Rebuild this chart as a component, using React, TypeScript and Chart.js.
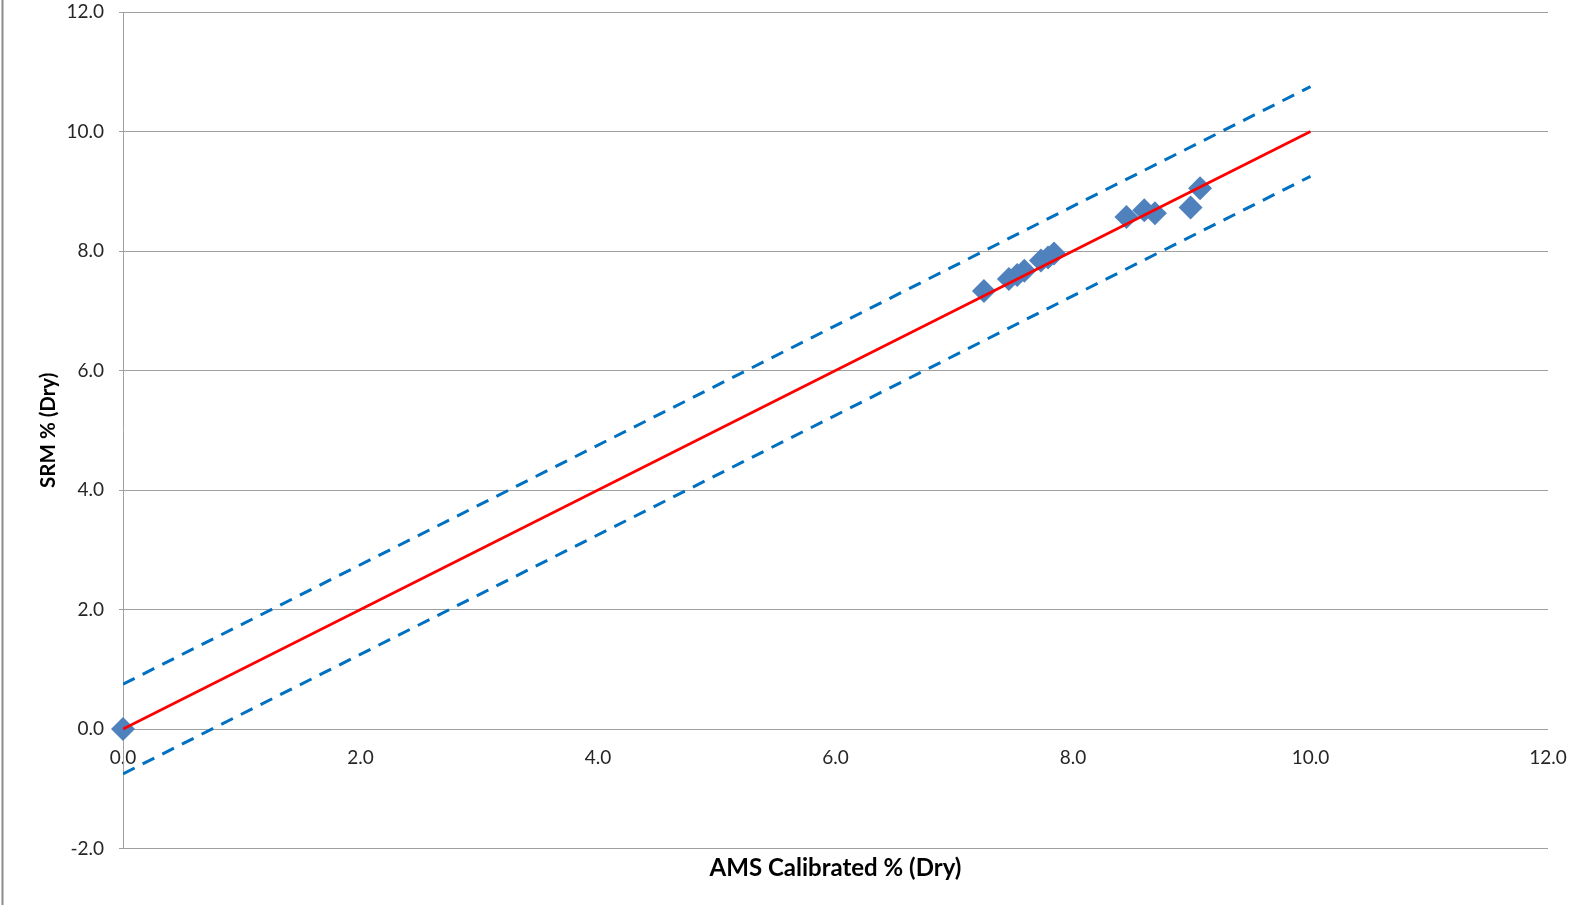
import React, { useEffect, useRef } from "react";
import { Chart, registerables } from "chart.js";

Chart.register(...registerables);

// AMS calibrated values (x) and SRM values (y)
const amsValues = [0, 7.25, 7.46, 7.53, 7.59, 7.73, 7.79, 7.84, 8.45, 8.6, 8.69, 8.99, 9.07];
const srmValues = [0, 7.33, 7.53, 7.6, 7.67, 7.84, 7.89, 7.96, 8.57, 8.68, 8.63, 8.73, 9.05];

// 1:1 line and +/- band
const lineX = [0, 10];
const fitY = [0, 10];
const upperY = [0.75, 10.75];
const lowerY = [-0.75, 9.25];

const xRange = [0, 12];
const yRange = [-2, 12];
const tickStep = 2;

const xTitle = "AMS Calibrated % (Dry)";
const yTitle = "SRM % (Dry)";

const FONT = "Lato, 'Open Sans', 'DejaVu Sans', sans-serif";

const toPoints = (xs: number[], ys: number[]) => xs.map((x, i) => ({ x, y: ys[i] }));
const fmt = (v: number | string) => Number(v).toFixed(1);

const framePlugin = {
  id: "frameLine",
  afterDraw(chart: any) {
    const ctx = chart.ctx;
    ctx.save();
    ctx.strokeStyle = "#8c8c8c";
    ctx.lineWidth = 2;
    ctx.beginPath();
    ctx.moveTo(2.5, 0);
    ctx.lineTo(2.5, chart.height);
    ctx.stroke();
    ctx.restore();
  },
};

const zeroPad = (s: any) => {
  s.paddingLeft = 0;
  s.paddingRight = 0;
  s.paddingTop = 0;
  s.paddingBottom = 0;
};

export default function App() {
  const canvasRef = useRef<HTMLCanvasElement | null>(null);

  useEffect(() => {
    if (!canvasRef.current) return;
    const chart = new Chart(canvasRef.current, {
      type: "scatter",
      data: {
        datasets: [
          {
            label: "1:1",
            data: toPoints(lineX, fitY),
            showLine: true,
            borderColor: "#FF0000",
            borderWidth: 2.75,
            pointRadius: 0,
            order: 0,
          },
          {
            label: "Samples",
            data: toPoints(amsValues, srmValues),
            pointStyle: "rectRot",
            pointRadius: 12,
            pointBackgroundColor: "#4F81BD",
            pointBorderColor: "#4F81BD",
            pointBorderWidth: 0,
            showLine: false,
            clip: false,
            order: 1,
          },
          {
            label: "Upper",
            data: toPoints(lineX, upperY),
            showLine: true,
            borderColor: "#0070C0",
            borderWidth: 3,
            borderDash: [13, 9],
            pointRadius: 0,
            order: 2,
          },
          {
            label: "Lower",
            data: toPoints(lineX, lowerY),
            showLine: true,
            borderColor: "#0070C0",
            borderWidth: 3,
            borderDash: [13, 9],
            pointRadius: 0,
            order: 2,
          },
        ],
      },
      options: {
        animation: false,
        responsive: false,
        events: [],
        layout: { padding: { left: 0, right: 26, top: 12, bottom: 0 } },
        plugins: {
          legend: { display: false },
          tooltip: { enabled: false },
        },
        scales: {
          x: {
            type: "linear",
            position: { y: 0 } as any,
            min: xRange[0],
            max: xRange[1],
            ticks: {
              stepSize: tickStep,
              callback: (v: any) => fmt(v),
              font: { family: FONT, size: 19 },
              color: "#262626",
              padding: 17,
              maxRotation: 0,
            },
            grid: { display: false, drawTicks: false },
            border: { display: false },
            afterFit: zeroPad,
          },
          x2: {
            type: "linear",
            position: "bottom",
            min: xRange[0],
            max: xRange[1],
            ticks: { display: false },
            grid: { display: false, drawTicks: false },
            border: { display: false },
            title: {
              display: true,
              text: xTitle,
              font: { family: FONT, size: 24, weight: "bold" },
              color: "#000",
              padding: { top: 0, bottom: 22 },
            },
            afterFit: (s: any) => {
              zeroPad(s);
              s.height = 56.5;
            },
          },
          y: {
            type: "linear",
            position: "left",
            min: yRange[0],
            max: yRange[1],
            ticks: {
              stepSize: tickStep,
              callback: (v: any) => fmt(v),
              font: { family: FONT, size: 19 },
              color: "#262626",
              padding: 15,
            },
            grid: { color: "#a0a0a0", lineWidth: 1, tickLength: 4, drawTicks: true },
            border: { display: true, color: "#a0a0a0", width: 1 },
            title: {
              display: true,
              text: yTitle,
              font: { family: FONT, size: 20.5, weight: "bold" },
              color: "#000",
              padding: { top: 36.5, bottom: 0 },
            },
            afterFit: (s: any) => {
              zeroPad(s);
              s.width = 123;
            },
          },
        },
      } as any,
      plugins: [framePlugin],
    });
    return () => chart.destroy();
  }, []);

  return (
    <div style={{ position: "fixed", left: 0, top: 0, width: 1574, height: 905, background: "#fff" }}>
      <canvas ref={canvasRef} width={1574} height={905} style={{ display: "block" }} />
    </div>
  );
}
